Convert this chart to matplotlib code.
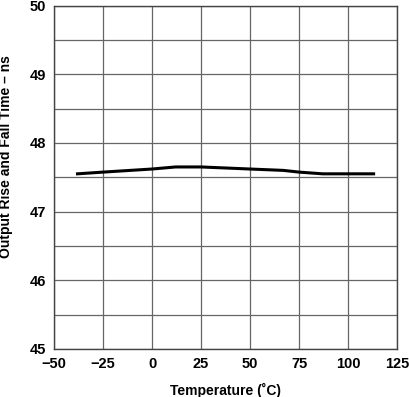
import numpy as np
import matplotlib.pyplot as plt

plt.rcParams['font.family'] = ['Liberation Sans', 'DejaVu Sans']
plt.rcParams['font.weight'] = 'bold'

temp = [-38, -25, 0, 12, 25, 50, 67, 75, 87, 100, 113]
rise_fall = [47.55, 47.575, 47.62, 47.65, 47.65, 47.62, 47.60, 47.575, 47.55, 47.55, 47.55]

fig = plt.figure(figsize=(4.09, 3.97), dpi=100)
ax = fig.add_axes([0.132, 0.121, 0.839, 0.865])

ax.plot(temp, rise_fall, color='black', lw=2.2)

ax.set_xlim(-50, 125)
ax.set_ylim(45, 50)
ax.set_xticks(np.arange(-50, 126, 25))
ax.set_yticks(np.arange(45, 50.1, 1))
ax.set_yticks(np.arange(45.5, 50, 1), minor=True)
ax.grid(True, which='both', color='#666666', lw=0.9)
ax.tick_params(which='both', length=0, labelsize=10.5, pad=6)
ax.set_xticklabels(['\u221250', '\u221225', '0', '25', '50', '75', '100', '125'])
for s in ax.spines.values():
    s.set_color('#444444')
    s.set_linewidth(1.0)

ax.set_xlabel('Temperature (\u02daC)', fontsize=10, fontweight='bold', labelpad=8)
ax.set_ylabel('Output Rise and Fall Time \u2013 ns', fontsize=10, fontweight='bold')
ax.yaxis.set_label_coords(-0.118, 0.56)

fig.savefig('out.png', dpi=100)
